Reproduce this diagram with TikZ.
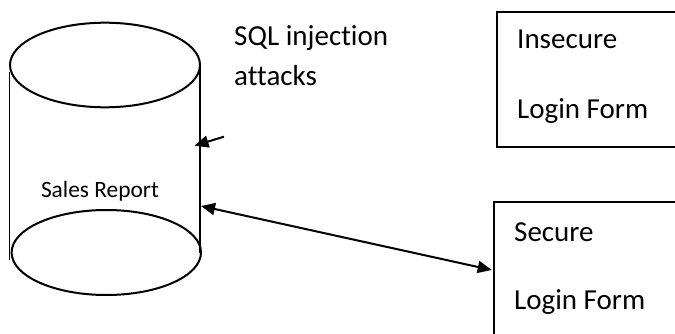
\documentclass[tikz,border=0pt]{standalone}
\usepackage{fontspec}
\setmainfont[Ligatures=NoCommon]{Carlito}
\usetikzlibrary{arrows.meta,shapes.geometric}
\begin{document}
\begin{tikzpicture}[x=1pt,y=-1pt,
  big/.style={inner sep=0pt,anchor=base west,font=\fontsize{29}{35}\selectfont},
  small/.style={inner sep=0pt,anchor=base,font=\fontsize{23.4}{28}\selectfont},
  ell/.style={draw,line width=2pt,ellipse,inner sep=0pt},
  side/.style={line width=1.1pt},
  frame/.style={draw,line width=2pt,rectangle,inner sep=0pt,anchor=north west},
  arr/.style={line width=2pt,-{Triangle[length=14pt,width=12pt]}},
  darr/.style={line width=2pt,{Triangle[length=14pt,width=12pt]}-{Triangle[length=14pt,width=12pt]}}]
\useasboundingbox (0,0) rectangle (675,334);
\clip (0,0) rectangle (675,334);
% cylinder
\node[ell,minimum width=190pt,minimum height=84.6pt] (topell) at (105,65) {};
\node[ell,minimum width=189.4pt,minimum height=85pt] (botell) at (106.3,252.5) {};
\coordinate (ltop) at (9.3,71.7);
\coordinate (lbot) at (9.3,260);
\coordinate (rtop) at (200,63);
\coordinate (rbot) at (200,253);
\draw[side] (ltop) -- (lbot);
\draw[side] (rtop) -- (rbot);
\node[small] (sales) at (100,197) {Sales Report};
% label
\node[big] (sql1) at (234,46) {SQL injection};
\node[big] (sql2) at (234,86) {attacks};
% boxes
\node[frame,minimum width=220pt,minimum height=134.7pt] (insec) at (495.7,11) {};
\node[big] (in1) at (517,49) {Insecure};
\node[big] (in2) at (517,119) {Login Form};
\node[frame,minimum width=220pt,minimum height=160pt] (sec) at (493,201) {};
\node[big] (se1) at (514,241) {Secure};
\node[big] (se2) at (514,309) {Login Form};
% arrows
\coordinate (atail) at (224,136.7);
\coordinate (atip) at (194.5,145.7);
\draw[arr] (atail) -- (atip);
\coordinate (dl) at (201,206);
\coordinate (dr) at (491.7,270);
\draw[darr] (dl) -- (dr);
\end{tikzpicture}
\end{document}
